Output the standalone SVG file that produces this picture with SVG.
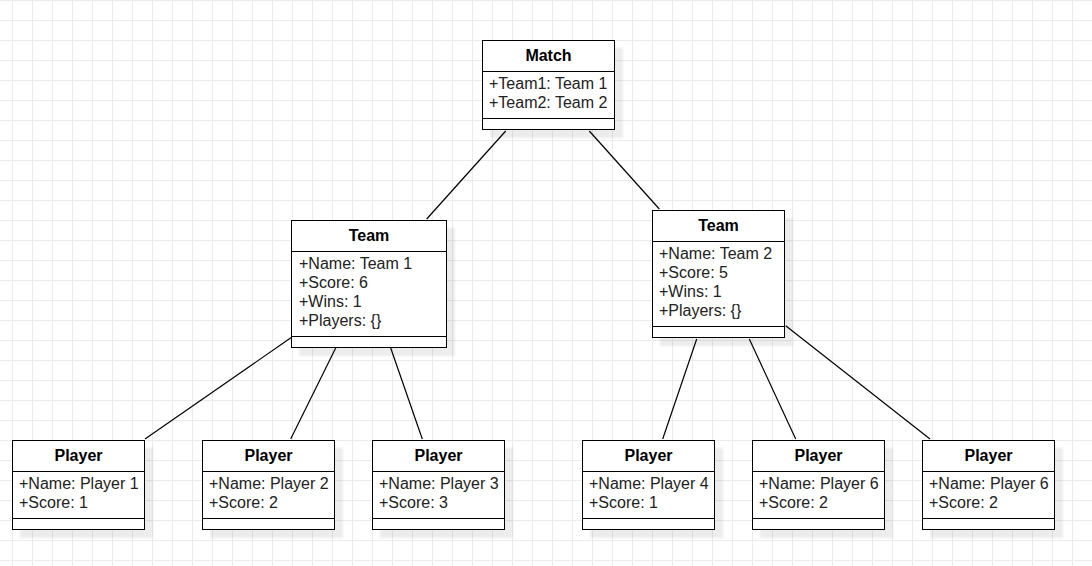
<svg xmlns="http://www.w3.org/2000/svg" width="1092" height="566" viewBox="0 0 1092 566">
<defs>
<pattern id="grid" x="12" y="0" width="20" height="20" patternUnits="userSpaceOnUse">
<path d="M0.5 0V20M0 0.5H20" stroke="#ebebeb" stroke-width="1" fill="none"/>
</pattern>
<filter id="sh" x="-10%" y="-10%" width="130%" height="130%">
<feDropShadow dx="8" dy="8" stdDeviation="1" flood-color="#000" flood-opacity="0.07"/>
</filter>
</defs>
<style>
.box{fill:#fff;stroke:#000;stroke-width:1}
.sep{stroke:#000;stroke-width:1}
.t{font-family:"Liberation Sans",Arial,Helvetica,sans-serif;font-size:16px;fill:#222}
.h{font-family:"Liberation Sans",Arial,Helvetica,sans-serif;font-size:16px;font-weight:bold;fill:#000;text-anchor:middle}
.c{stroke:#000;stroke-width:1.2;fill:none}
</style>
<rect width="1092" height="566" fill="#fff"/>
<rect width="1092" height="566" fill="url(#grid)"/>

<g id="connectors">
<line class="c" x1="505.7" y1="131" x2="426.7" y2="219"/>
<line class="c" x1="589.3" y1="131" x2="659.3" y2="209"/>
<line class="c" x1="292" y1="337" x2="145" y2="439"/>
<line class="c" x1="335.7" y1="348" x2="290.7" y2="439"/>
<line class="c" x1="390.7" y1="348" x2="422.3" y2="439"/>
<line class="c" x1="696.7" y1="339" x2="662.7" y2="439"/>
<line class="c" x1="749.3" y1="339" x2="795.7" y2="439"/>
<line class="c" x1="785.7" y1="325.7" x2="930" y2="439"/>
</g>

<g id="match">
<rect class="box" x="482.5" y="40.5" width="132" height="89" filter="url(#sh)"/>
<line class="sep" x1="482.5" y1="71.5" x2="614.5" y2="71.5"/>
<line class="sep" x1="482.5" y1="118.5" x2="614.5" y2="118.5"/>
<text class="h" x="548.5" y="61">Match</text>
<text class="t" x="489" y="89">+Team1: Team 1</text>
<text class="t" x="489" y="108">+Team2: Team 2</text>
</g>

<g id="team1">
<rect class="box" x="291.5" y="220.5" width="155" height="127" filter="url(#sh)"/>
<line class="sep" x1="291.5" y1="251.5" x2="446.5" y2="251.5"/>
<line class="sep" x1="291.5" y1="336.5" x2="446.5" y2="336.5"/>
<text class="h" x="369" y="241">Team</text>
<text class="t" x="299" y="269">+Name: Team 1</text>
<text class="t" x="299" y="288">+Score: 6</text>
<text class="t" x="299" y="307">+Wins: 1</text>
<text class="t" x="299" y="326">+Players: {}</text>
</g>

<g id="team2">
<rect class="box" x="652.5" y="210.5" width="132" height="127" filter="url(#sh)"/>
<line class="sep" x1="652.5" y1="241.5" x2="784.5" y2="241.5"/>
<line class="sep" x1="652.5" y1="326.5" x2="784.5" y2="326.5"/>
<text class="h" x="718.5" y="231">Team</text>
<text class="t" x="659" y="259">+Name: Team 2</text>
<text class="t" x="659" y="278">+Score: 5</text>
<text class="t" x="659" y="297">+Wins: 1</text>
<text class="t" x="659" y="316">+Players: {}</text>
</g>

<g id="player1">
<rect class="box" x="12.5" y="440.5" width="132" height="89" filter="url(#sh)"/>
<line class="sep" x1="12.5" y1="471.5" x2="144.5" y2="471.5"/>
<line class="sep" x1="12.5" y1="518.5" x2="144.5" y2="518.5"/>
<text class="h" x="78.5" y="461">Player</text>
<text class="t" x="19" y="489">+Name: Player 1</text>
<text class="t" x="19" y="508">+Score: 1</text>
</g>

<g id="player2">
<rect class="box" x="202.5" y="440.5" width="132" height="89" filter="url(#sh)"/>
<line class="sep" x1="202.5" y1="471.5" x2="334.5" y2="471.5"/>
<line class="sep" x1="202.5" y1="518.5" x2="334.5" y2="518.5"/>
<text class="h" x="268.5" y="461">Player</text>
<text class="t" x="209" y="489">+Name: Player 2</text>
<text class="t" x="209" y="508">+Score: 2</text>
</g>

<g id="player3">
<rect class="box" x="372.5" y="440.5" width="132" height="89" filter="url(#sh)"/>
<line class="sep" x1="372.5" y1="471.5" x2="504.5" y2="471.5"/>
<line class="sep" x1="372.5" y1="518.5" x2="504.5" y2="518.5"/>
<text class="h" x="438.5" y="461">Player</text>
<text class="t" x="379" y="489">+Name: Player 3</text>
<text class="t" x="379" y="508">+Score: 3</text>
</g>

<g id="player4">
<rect class="box" x="582.5" y="440.5" width="132" height="89" filter="url(#sh)"/>
<line class="sep" x1="582.5" y1="471.5" x2="714.5" y2="471.5"/>
<line class="sep" x1="582.5" y1="518.5" x2="714.5" y2="518.5"/>
<text class="h" x="648.5" y="461">Player</text>
<text class="t" x="589" y="489">+Name: Player 4</text>
<text class="t" x="589" y="508">+Score: 1</text>
</g>

<g id="player5">
<rect class="box" x="752.5" y="440.5" width="132" height="89" filter="url(#sh)"/>
<line class="sep" x1="752.5" y1="471.5" x2="884.5" y2="471.5"/>
<line class="sep" x1="752.5" y1="518.5" x2="884.5" y2="518.5"/>
<text class="h" x="818.5" y="461">Player</text>
<text class="t" x="759" y="489">+Name: Player 6</text>
<text class="t" x="759" y="508">+Score: 2</text>
</g>

<g id="player6">
<rect class="box" x="922.5" y="440.5" width="132" height="89" filter="url(#sh)"/>
<line class="sep" x1="922.5" y1="471.5" x2="1054.5" y2="471.5"/>
<line class="sep" x1="922.5" y1="518.5" x2="1054.5" y2="518.5"/>
<text class="h" x="988.5" y="461">Player</text>
<text class="t" x="929" y="489">+Name: Player 6</text>
<text class="t" x="929" y="508">+Score: 2</text>
</g>
</svg>
